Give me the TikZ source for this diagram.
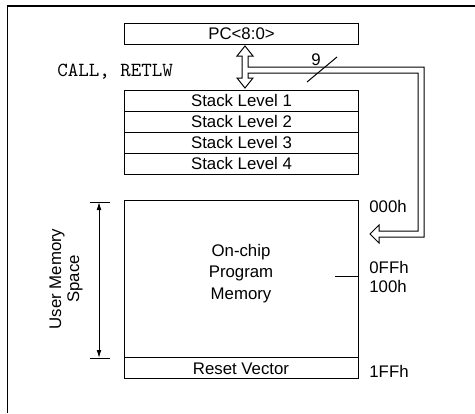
\documentclass[tikz,border=0pt]{standalone}
\usepackage{fontspec}
\setmainfont{Liberation Sans}
\usetikzlibrary{positioning, arrows.meta}

\begin{document}
\begin{tikzpicture}[
    x=0.5pt, y=-0.5pt,
    node distance=0pt,
    sbox/.style={rectangle, draw, line width=0.5pt, minimum width=117pt, minimum height=10.5pt, inner sep=0pt, outer sep=0pt, font=\fontsize{8.4}{10}\selectfont},
    addr/.style={anchor=west, inner sep=0pt, font=\fontsize{8.4}{10}\selectfont},
    dim/.style={{Latex[length=4pt,width=2.4pt]}-{Latex[length=4pt,width=2.4pt]}, line width=0.5pt}
]
\useasboundingbox (0,0) rectangle (475,413);

% frame
\draw[line width=0.8pt] (7.5,413) -- (7.5,6) -- (475,6);

% program counter and stack
\node[sbox] (pc) at (241.5,33.5) {PC<8:0>};
\node[sbox] (s1) at (241.5,100.5) {Stack Level 1};
\node[sbox, below=of s1] (s2) {Stack Level 2};
\node[sbox, below=of s2] (s3) {Stack Level 3};
\node[sbox, below=of s3] (s4) {Stack Level 4};

\node[anchor=west, inner sep=0pt, font=\ttfamily\fontsize{10}{12}\selectfont] (call) at (57,72) {CALL, RETLW};

% bus between pc, stack and memory
\draw[line width=0.5pt, fill=white] (242,56) -- (237,56) -- (245,46) -- (253,56) -- (248,56) -- (248,67)
    -- (424,67) -- (424,237) -- (379,237) -- (379,243) -- (370,234) -- (379,225) -- (379,231)
    -- (418,231) -- (418,73) -- (248,73) -- (248,78) -- (253,78) -- (245,88) -- (237,78) -- (242,78) -- cycle;
\draw[line width=0.5pt] (307,82) -- (337,57);
\node[inner sep=0pt, font=\fontsize{8.4}{10}\selectfont] (nine) at (316,60) {9};

% program memory
\node[sbox, minimum height=78.5pt] (mem) at (241,279.35) {};
\node[sbox, below=of mem] (rv) {Reset Vector};
\node[align=center, inner sep=0pt, font=\fontsize{8.4}{10.75}\selectfont] (memtxt) at (241,273.5) {On-chip\\Program\\Memory};
\draw[line width=0.5pt] (335,276) -- (358,276);

\node[addr] (a000) at (369,206) {000h};
\node[addr] (a0ff) at (369,267) {0FFh};
\node[addr] (a100) at (369,286) {100h};
\node[addr] (a1ff) at (369,371) {1FFh};

% user memory space
\coordinate (dtop) at (99,202);
\coordinate (dbot) at (99,358);
\draw[line width=0.5pt] (90,202) -- (110,202);
\draw[line width=0.5pt] (90,358) -- (110,358);
\draw[dim] (dtop) -- (dbot);
\node[rotate=90, align=center, inner sep=0pt, font=\fontsize{8.4}{9}\selectfont] (ums) at (66,279) {User Memory\\Space};

\end{tikzpicture}
\end{document}
